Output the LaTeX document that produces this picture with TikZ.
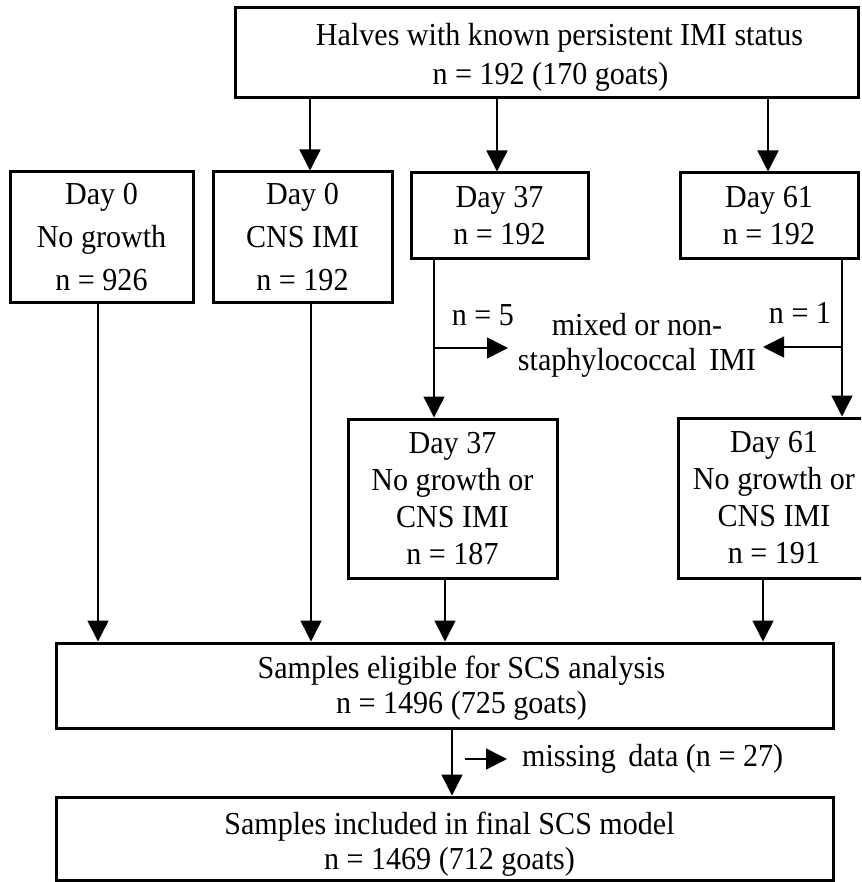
\documentclass[tikz,border=0pt]{standalone}
\usepackage{fontspec}
\setmainfont{Liberation Serif}[FakeStretch=0.94]
\usetikzlibrary{arrows.meta}
\tikzset{
  box/.style={draw=black, line width=3pt, rectangle, inner sep=0pt, align=center,
    font=\fontsize{32}{43}\selectfont},
  boxs/.style={box, font=\fontsize{32}{37}\selectfont},
  lbl/.style={inner sep=0pt, font=\fontsize{32}{35}\selectfont, align=center},
  arr/.style={line width=1.5pt, -{Triangle[length=21pt,width=21pt]}}
}
\begin{document}
\begin{tikzpicture}[x=1pt,y=-1pt]
\useasboundingbox (0,0) rectangle (861,882);
\clip (0,0) rectangle (861,882);
% boxes
\node[boxs, minimum width=623pt, minimum height=90pt] (top) at (546.5,53) {};
\node[lbl, font=\fontsize{32}{39}\selectfont] (topt) at ([shift={(4,4)}]top.center)
  {\hspace*{18pt}Halves with known persistent IMI status\\n = 192 (170 goats)};
\node[box, minimum width=183pt, minimum height=130pt] (d0n) at (101.5,237)
  {Day 0\\No growth\\n = 926};
\node[box, minimum width=179pt, minimum height=130pt] (d0c) at (302.5,237)
  {Day 0\\CNS IMI\\n = 192};
\node[boxs, minimum width=177pt, minimum height=86pt] (d37) at (499.5,216)
  {Day 37\\n = 192};
\node[boxs, minimum width=178pt, minimum height=86pt] (d61) at (769,216)
  {Day 61\\n = 192};
\node[boxs, minimum width=209pt, minimum height=159pt] (d37b) at (452.5,498.5)
  {Day 37\\No growth or\\CNS IMI\\n = 187};
\node[boxs, minimum width=192pt, minimum height=160pt] (d61b) at (774,498)
  {Day 61\\No growth or\\CNS IMI\\n = 191};
\node[boxs, minimum width=777pt, minimum height=85pt] (scs) at (444.5,685.5) {};
\node[lbl] (scst) at ([shift={(17,3)}]scs.center)
  {Samples eligible for SCS analysis\\n = 1496 (725 goats)};
\node[boxs, minimum width=777pt, minimum height=83pt] (fin) at (444.5,838.5) {};
\node[lbl] (fint) at ([shift={(5,6)}]fin.center)
  {Samples included in final SCS model\\n = 1469 (712 goats)};
% labels
\node[lbl] (mix) at (637,345) {mixed or non-\\staphylococcal\hspace{5pt} IMI};
\node[lbl] (n5) at (483,315) {n = 5};
\node[lbl] (n1) at (800,313) {n = 1};
\node[lbl, anchor=west] (miss) at (522,759) {missing\hspace{5pt} data (n = 27)};
% connectors
\draw[arr] (top.south -| 310,0) -- (d0c.north -| 310,0);
\draw[arr] (top.south -| 497,0) -- (d37.north -| 497,0);
\draw[arr] (top.south -| 768,0) -- (d61.north -| 768,0);
\draw[arr] (d0n.south -| 98,0) -- (scs.north -| 98,0);
\draw[arr] (d0c.south -| 311,0) -- (scs.north -| 311,0);
\draw[arr] (d37.south -| 434,0) -- (d37b.north -| 434,0);
\draw[arr] (d61.south -| 842,0) -- (d61b.north -| 842,0);
\coordinate (b37) at (434,348);
\coordinate (b61) at (842,347);
\draw[arr] (b37) -- (508,348);
\draw[arr] (b61) -- (763,347);
\draw[arr] (d37b.south -| 445,0) -- (scs.north -| 445,0);
\draw[arr] (d61b.south -| 763,0) -- (scs.north -| 763,0);
\draw[arr] (scs.south -| 452,0) -- (fin.north -| 452,0);
\coordinate (ms) at (465,759);
\draw[arr] (ms) -- (miss.west -| 507,0);
\end{tikzpicture}
\end{document}
